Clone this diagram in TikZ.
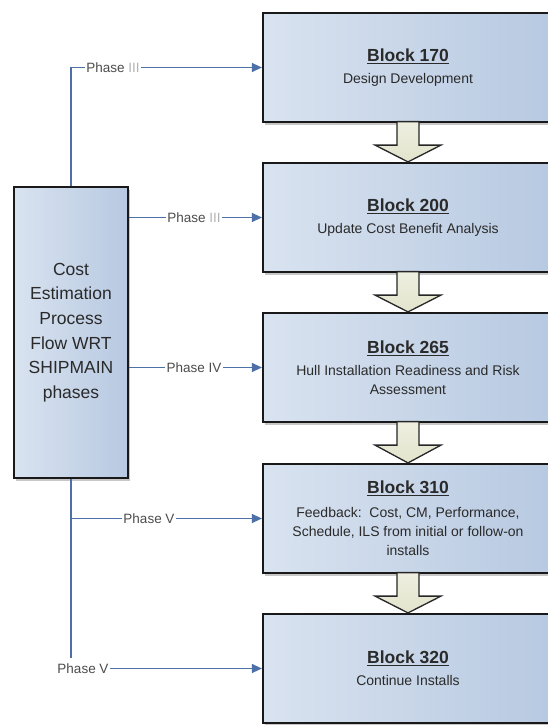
\documentclass[tikz,border=0pt]{standalone}
\usepackage{fontspec}
\setmainfont{Liberation Sans}
\usetikzlibrary{arrows.meta,shadows,calc}
\definecolor{boxL}{HTML}{D9E3F0}
\definecolor{boxR}{HTML}{B7C9E1}
\definecolor{txt}{HTML}{2A2A2A}
\definecolor{lnblue}{HTML}{4D71A6}
\definecolor{khaki}{HTML}{E2E4CC}
\definecolor{khakiL}{HTML}{EEEFE0}
\newcommand\ttlx[1]{{\fontsize{17.5}{22}\selectfont\bfseries\underline{#1}}}
\newcommand\barw[2]{%
  \draw[barrow] ($(#1.south)+(-11,-1.5)$) -- ($(#1.south)+(-11,22)$) -- ($(#1.south)+(-33,22)$)
    -- (#2.north) -- ($(#1.south)+(33,22)$) -- ($(#1.south)+(11,22)$) -- ($(#1.south)+(11,-1.5)$) -- cycle;}
\begin{document}
\begin{tikzpicture}[x=1pt,y=-1pt,
  blk/.style={draw=black!90, line width=2.2pt, left color=boxL, right color=boxR,
    minimum width=290pt, minimum height=109pt, inner sep=0pt, align=center, text=txt,
    font=\fontsize{14}{19}\selectfont,
    drop shadow={shadow xshift=1.5pt, shadow yshift=-2.5pt, opacity=0.22, fill=black}},
  cbox/.style={draw=black!90, line width=2.2pt, left color=boxL, right color=boxR,
    minimum width=114pt, minimum height=291pt, inner sep=0pt, align=center, text=txt,
    font=\fontsize{17.5}{24.6}\selectfont,
    drop shadow={shadow xshift=1.5pt, shadow yshift=-2.5pt, opacity=0.22, fill=black}},
  conn/.style={draw=lnblue, line width=1.2pt, -{Triangle[length=10pt,width=9pt]}},
  phl/.style={fill=white, inner sep=1.5pt, text=black!70, font=\fontsize{13.5}{16}\selectfont},
  barrow/.style={top color=khakiL, bottom color=khaki, draw=black!85, line width=1.3pt, line join=miter}
]
\useasboundingbox (0,0) rectangle (548,725);
\clip (0,0) rectangle (548,725);
\fill[white] (0,0) rectangle (548,725);

% blocks
\node[blk] (b170) at (408,67.5) {\ttlx{Block 170}\\[3pt]Design Development};
\node[blk] (b200) at (408,217.5) {\ttlx{Block 200}\\[3pt]Update Cost Benefit Analysis};
\node[blk] (b265) at (408,367.5) {\ttlx{Block 265}\\[3pt]Hull Installation Readiness and Risk\\Assessment};
\node[blk] (b310) at (408,518.5) {\ttlx{Block 310}\\[5pt]Feedback:\ \ Cost, CM, Performance,\\Schedule, ILS from initial or follow-on\\installs};
\node[blk] (b320) at (408,668.5) {\ttlx{Block 320}\\[3pt]Continue Installs};

% left box
\node[cbox] (cost) at (71,332.5) {Cost\\Estimation\\Process\\Flow WRT\\SHIPMAIN\\phases};

% block arrows
\barw{b170}{b200}
\barw{b200}{b265}
\barw{b265}{b310}
\barw{b310}{b320}

% phase connectors
\draw[conn] (cost.north) |- (b170.west);
\draw[conn] (cost.east |- b200.west) -- (b200.west);
\draw[conn] (cost.east |- b265.west) -- (b265.west);
\draw[conn] (cost.south) |- (b320.west);
\draw[conn] (cost.south |- b310.west) -- (b310.west);

% phase labels
\node[phl] (p1) at (113,67.5) {Phase \textcolor{black!30}{III}};
\node[phl] (p2) at (194,217.5) {Phase \textcolor{black!30}{III}};
\node[phl] (p3) at (194,367.5) {Phase IV};
\node[phl] (p4) at (149,518.5) {Phase V};
\node[phl, minimum height=21pt] (p5) at (83,668.5) {Phase V};
\end{tikzpicture}
\end{document}
